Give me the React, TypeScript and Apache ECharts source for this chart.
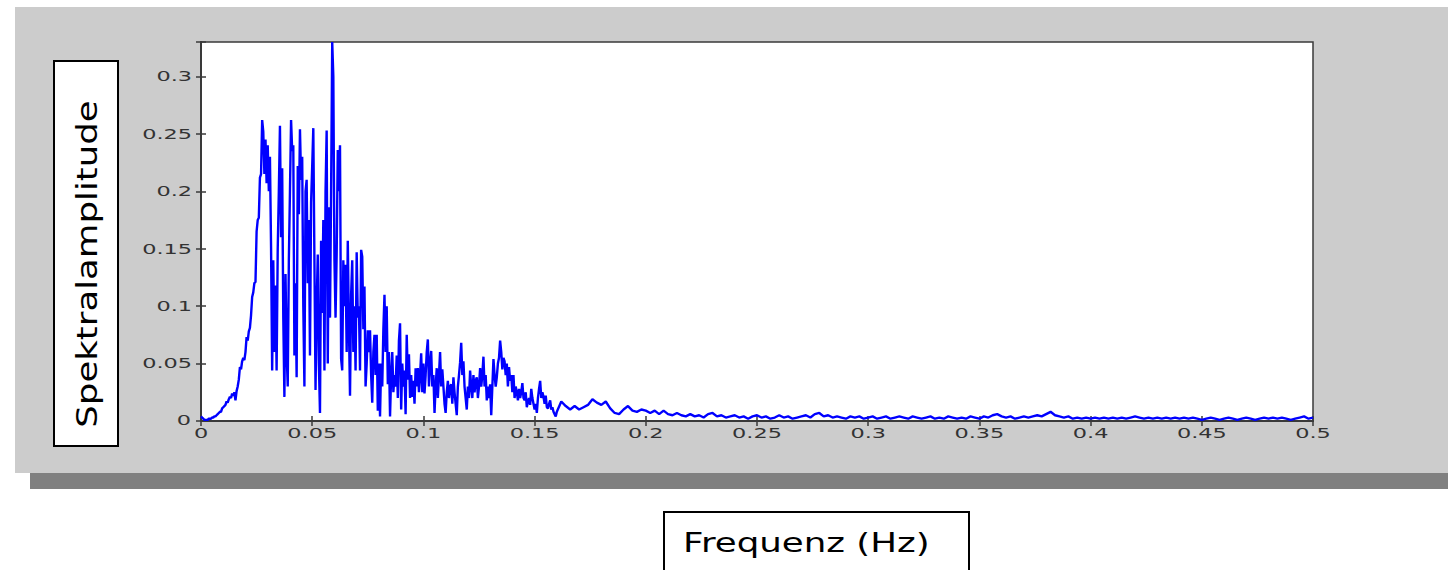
import React, { useEffect, useRef } from "react";
import * as echarts from "echarts";

// Spectral amplitude, fine resolution: 0 .. 0.16 Hz in 0.0005 Hz steps
const FINE_STEP = 0.0005;
const ampFine = [
  0.004, 0.003, 0.002, 0.001, 0.001, 0.001, 0.001, 0.002, 0.002, 0.002,
  0.003, 0.003, 0.004, 0.004, 0.005, 0.006, 0.007, 0.008, 0.008, 0.011,
  0.012, 0.013, 0.014, 0.017, 0.016, 0.019, 0.021, 0.020, 0.024, 0.022,
  0.025, 0.018, 0.026, 0.030, 0.036, 0.047, 0.045, 0.052, 0.055, 0.053,
  0.060, 0.073, 0.070, 0.078, 0.081, 0.092, 0.108, 0.112, 0.120, 0.121,
  0.165, 0.175, 0.177, 0.212, 0.215, 0.262, 0.252, 0.215, 0.245, 0.207,
  0.240, 0.200, 0.230, 0.151, 0.044, 0.140, 0.060, 0.118, 0.044, 0.150,
  0.200, 0.257, 0.160, 0.220, 0.090, 0.021, 0.128, 0.060, 0.030, 0.140,
  0.200, 0.262, 0.235, 0.240, 0.057, 0.120, 0.038, 0.222, 0.180, 0.254,
  0.210, 0.230, 0.100, 0.030, 0.200, 0.210, 0.120, 0.175, 0.057, 0.190,
  0.222, 0.255, 0.140, 0.027, 0.100, 0.145, 0.050, 0.007, 0.157, 0.094,
  0.175, 0.044, 0.200, 0.253, 0.050, 0.186, 0.090, 0.200, 0.330, 0.300,
  0.140, 0.090, 0.145, 0.236, 0.200, 0.240, 0.054, 0.044, 0.140, 0.100,
  0.136, 0.060, 0.157, 0.084, 0.022, 0.110, 0.140, 0.060, 0.100, 0.044,
  0.147, 0.090, 0.100, 0.044, 0.149, 0.143, 0.080, 0.117, 0.030, 0.050,
  0.079, 0.060, 0.079, 0.040, 0.016, 0.060, 0.075, 0.040, 0.075, 0.009,
  0.050, 0.004, 0.050, 0.030, 0.080, 0.110, 0.060, 0.100, 0.032, 0.060,
  0.004, 0.040, 0.060, 0.025, 0.040, 0.030, 0.057, 0.020, 0.070, 0.085,
  0.010, 0.050, 0.030, 0.044, 0.006, 0.075, 0.036, 0.058, 0.020, 0.040,
  0.021, 0.035, 0.015, 0.046, 0.030, 0.046, 0.025, 0.040, 0.059, 0.025,
  0.050, 0.024, 0.040, 0.060, 0.071, 0.030, 0.050, 0.061, 0.030, 0.040,
  0.007, 0.030, 0.046, 0.020, 0.040, 0.060, 0.030, 0.045, 0.030, 0.015,
  0.007, 0.025, 0.035, 0.020, 0.030, 0.032, 0.015, 0.038, 0.025, 0.015,
  0.005, 0.030, 0.040, 0.051, 0.068, 0.040, 0.052, 0.030, 0.020, 0.010,
  0.030, 0.020, 0.044, 0.030, 0.020, 0.040, 0.025, 0.035, 0.038, 0.020,
  0.030, 0.046, 0.030, 0.040, 0.056, 0.030, 0.040, 0.018, 0.030, 0.020,
  0.032, 0.005, 0.030, 0.054, 0.040, 0.030, 0.038, 0.050, 0.055, 0.070,
  0.060, 0.045, 0.055, 0.052, 0.040, 0.050, 0.030, 0.047, 0.035, 0.040,
  0.025, 0.040, 0.020, 0.030, 0.025, 0.018, 0.028, 0.020, 0.025, 0.033,
  0.020, 0.018, 0.025, 0.012, 0.017, 0.020, 0.014, 0.028, 0.020, 0.015,
  0.010, 0.015, 0.007, 0.020, 0.028, 0.035, 0.020, 0.025, 0.021, 0.015,
  0.022, 0.012, 0.011, 0.015, 0.018, 0.010, 0.012, 0.008, 0.006, 0.004,
  0.008,
];

// Spectral amplitude, coarse resolution: 0.162 .. 0.5 Hz in 0.002 Hz steps
const COARSE_START = 0.162;
const COARSE_STEP = 0.002;
const ampCoarse = [
  0.017, 0.013, 0.010, 0.013, 0.010, 0.012, 0.014, 0.019, 0.016, 0.014,
  0.017, 0.011, 0.007, 0.006, 0.010, 0.013, 0.009, 0.008, 0.010, 0.009,
  0.007, 0.009, 0.006, 0.009, 0.006, 0.005, 0.007, 0.005, 0.004, 0.006,
  0.004, 0.005, 0.003, 0.006, 0.007, 0.004, 0.005, 0.003, 0.004, 0.005,
  0.003, 0.004, 0.002, 0.004, 0.005, 0.003, 0.004, 0.002, 0.003, 0.005,
  0.003, 0.004, 0.002, 0.003, 0.004, 0.005, 0.003, 0.006, 0.007, 0.004,
  0.005, 0.003, 0.004, 0.003, 0.002, 0.004, 0.003, 0.004, 0.002, 0.003,
  0.004, 0.002, 0.003, 0.004, 0.002, 0.003, 0.004, 0.003, 0.002, 0.004,
  0.003, 0.002, 0.003, 0.004, 0.002, 0.003, 0.002, 0.004, 0.003, 0.002,
  0.003, 0.002, 0.004, 0.003, 0.002, 0.004, 0.003, 0.005, 0.006, 0.004,
  0.003, 0.004, 0.002, 0.003, 0.004, 0.003, 0.004, 0.005, 0.004, 0.006,
  0.008, 0.005, 0.004, 0.003, 0.004, 0.002, 0.003, 0.002, 0.003, 0.002,
  0.003, 0.002, 0.003, 0.002, 0.003, 0.002, 0.003, 0.002, 0.003, 0.004,
  0.003, 0.002, 0.003, 0.002, 0.003, 0.002, 0.003, 0.002, 0.003, 0.002,
  0.003, 0.002, 0.003, 0.002, 0.001, 0.002, 0.003, 0.002, 0.001, 0.002,
  0.003, 0.002, 0.001, 0.002, 0.003, 0.002, 0.001, 0.002, 0.003, 0.002,
  0.003, 0.002, 0.003, 0.002, 0.001, 0.002, 0.003, 0.004, 0.002, 0.003,
];

// Axis ranges and tick spacing
const X_MIN = 0;
const X_MAX = 0.5;
const X_INTERVAL = 0.05;
const Y_MIN = 0;
const Y_MAX = 0.33;
const Y_INTERVAL = 0.05;

// Tick label values
const xTickValues = [0, 0.05, 0.1, 0.15, 0.2, 0.25, 0.3, 0.35, 0.4, 0.45, 0.5];
const yTickValues = [0, 0.05, 0.1, 0.15, 0.2, 0.25, 0.3];

const Y_TITLE = "Spektralamplitude";
const X_TITLE = "Frequenz (Hz)";

const fmtTick = (v: number) => String(+v.toFixed(2));

export default function App() {
  const ref = useRef<HTMLDivElement>(null);

  useEffect(() => {
    if (!ref.current) return;
    const chart = echarts.init(ref.current, null, { renderer: "svg" });

    const data: [number, number][] = [
      ...ampFine.map((a, i) => [+(i * FINE_STEP).toFixed(4), a] as [number, number]),
      ...ampCoarse.map(
        (a, i) => [+(COARSE_START + i * COARSE_STEP).toFixed(4), a] as [number, number]
      ),
    ];

    const axisColor = "#3a3a3a";
    const tickStyle = { show: true, inside: true, length: 5, lineStyle: { color: axisColor, width: 1.5 } };

    // Figure panel, shadow and boxed axis titles
    const frameGraphics: any[] = [
      {
        type: "rect",
        z: -20,
        shape: { x: 30, y: 473, width: 1418, height: 16 },
        style: { fill: "#808080" },
      },
      {
        type: "rect",
        z: -20,
        shape: { x: 15, y: 7, width: 1433, height: 466 },
        style: { fill: "#cccccc" },
      },
      {
        type: "rect",
        z: 20,
        shape: { x: 54, y: 61, width: 64, height: 385 },
        style: { fill: "#ffffff", stroke: "#000000", lineWidth: 2 },
      },
      {
        type: "text",
        z: 21,
        x: 87,
        y: 264,
        rotation: Math.PI / 2,
        scaleX: 1.27,
        style: {
          text: Y_TITLE,
          fontFamily: "DejaVu Sans",
          fontSize: 28,
          fill: "#000000",
          align: "center",
          verticalAlign: "middle",
        },
      },
      {
        type: "rect",
        z: 20,
        shape: { x: 664, y: 512, width: 305, height: 70 },
        style: { fill: "#ffffff", stroke: "#000000", lineWidth: 2 },
      },
      {
        type: "text",
        z: 21,
        x: 683,
        y: 543,
        scaleX: 1.37,
        style: {
          text: X_TITLE,
          fontFamily: "DejaVu Sans",
          fontSize: 26,
          fill: "#000000",
          align: "left",
          verticalAlign: "middle",
        },
      },
    ];

    chart.setOption({
      animation: false,
      backgroundColor: "#ffffff",
      grid: {
        left: 201,
        top: 42,
        width: 1112,
        height: 379,
        show: true,
        backgroundColor: "#ffffff",
        borderColor: axisColor,
        borderWidth: 1.5,
      },
      xAxis: [
        {
          type: "value",
          min: X_MIN,
          max: X_MAX,
          interval: X_INTERVAL,
          axisLine: { show: true, onZero: false, lineStyle: { color: axisColor, width: 2 } },
          axisTick: tickStyle,
          axisLabel: { show: false },
          splitLine: { show: false },
        },
        {
          type: "value",
          position: "top",
          min: X_MIN,
          max: X_MAX,
          interval: X_INTERVAL,
          axisLine: { show: true, lineStyle: { color: axisColor, width: 1.5 } },
          axisTick: tickStyle,
          axisLabel: { show: false },
          splitLine: { show: false },
        },
      ],
      yAxis: [
        {
          type: "value",
          min: Y_MIN,
          max: Y_MAX,
          interval: Y_INTERVAL,
          axisLine: { show: true, onZero: false, lineStyle: { color: axisColor, width: 2 } },
          axisTick: tickStyle,
          axisLabel: { show: false },
          splitLine: { show: false },
        },
        {
          type: "value",
          position: "right",
          min: Y_MIN,
          max: Y_MAX,
          interval: Y_INTERVAL,
          axisLine: { show: true, lineStyle: { color: axisColor, width: 1.5 } },
          axisTick: tickStyle,
          axisLabel: { show: false },
          splitLine: { show: false },
        },
      ],
      series: [
        {
          type: "line",
          xAxisIndex: 0,
          yAxisIndex: 0,
          data,
          showSymbol: false,
          symbol: "none",
          clip: true,
          lineStyle: { color: "#0000ff", width: 2.4 },
          z: 5,
        },
      ],
      graphic: frameGraphics,
    });

    // Wide, MATLAB-like tick labels placed through the axes' own scales
    const labelFont = { fontFamily: "DejaVu Sans", fontSize: 14, fill: "#333333" };
    const xLabels = xTickValues.map((v) => {
      const px = chart.convertToPixel({ xAxisIndex: 0 }, v) as number;
      return {
        type: "text",
        z: 10,
        x: px,
        y: 433,
        scaleX: 1.6,
        style: { ...labelFont, text: fmtTick(v), align: "center", verticalAlign: "middle" },
      };
    });
    const yLabels = yTickValues.map((v) => {
      const py = chart.convertToPixel({ yAxisIndex: 0 }, v) as number;
      return {
        type: "text",
        z: 10,
        x: v === 0 ? 191 : 192,
        y: v === 0 ? py - 1 : py,
        scaleX: 1.6,
        style: { ...labelFont, text: fmtTick(v), align: "right", verticalAlign: "middle" },
      };
    });

    chart.setOption({ graphic: [...frameGraphics, ...xLabels, ...yLabels] });

    return () => chart.dispose();
  }, []);

  return (
    <div
      ref={ref}
      style={{ position: "fixed", left: 0, top: 0, width: 1448, height: 570 }}
    />
  );
}
